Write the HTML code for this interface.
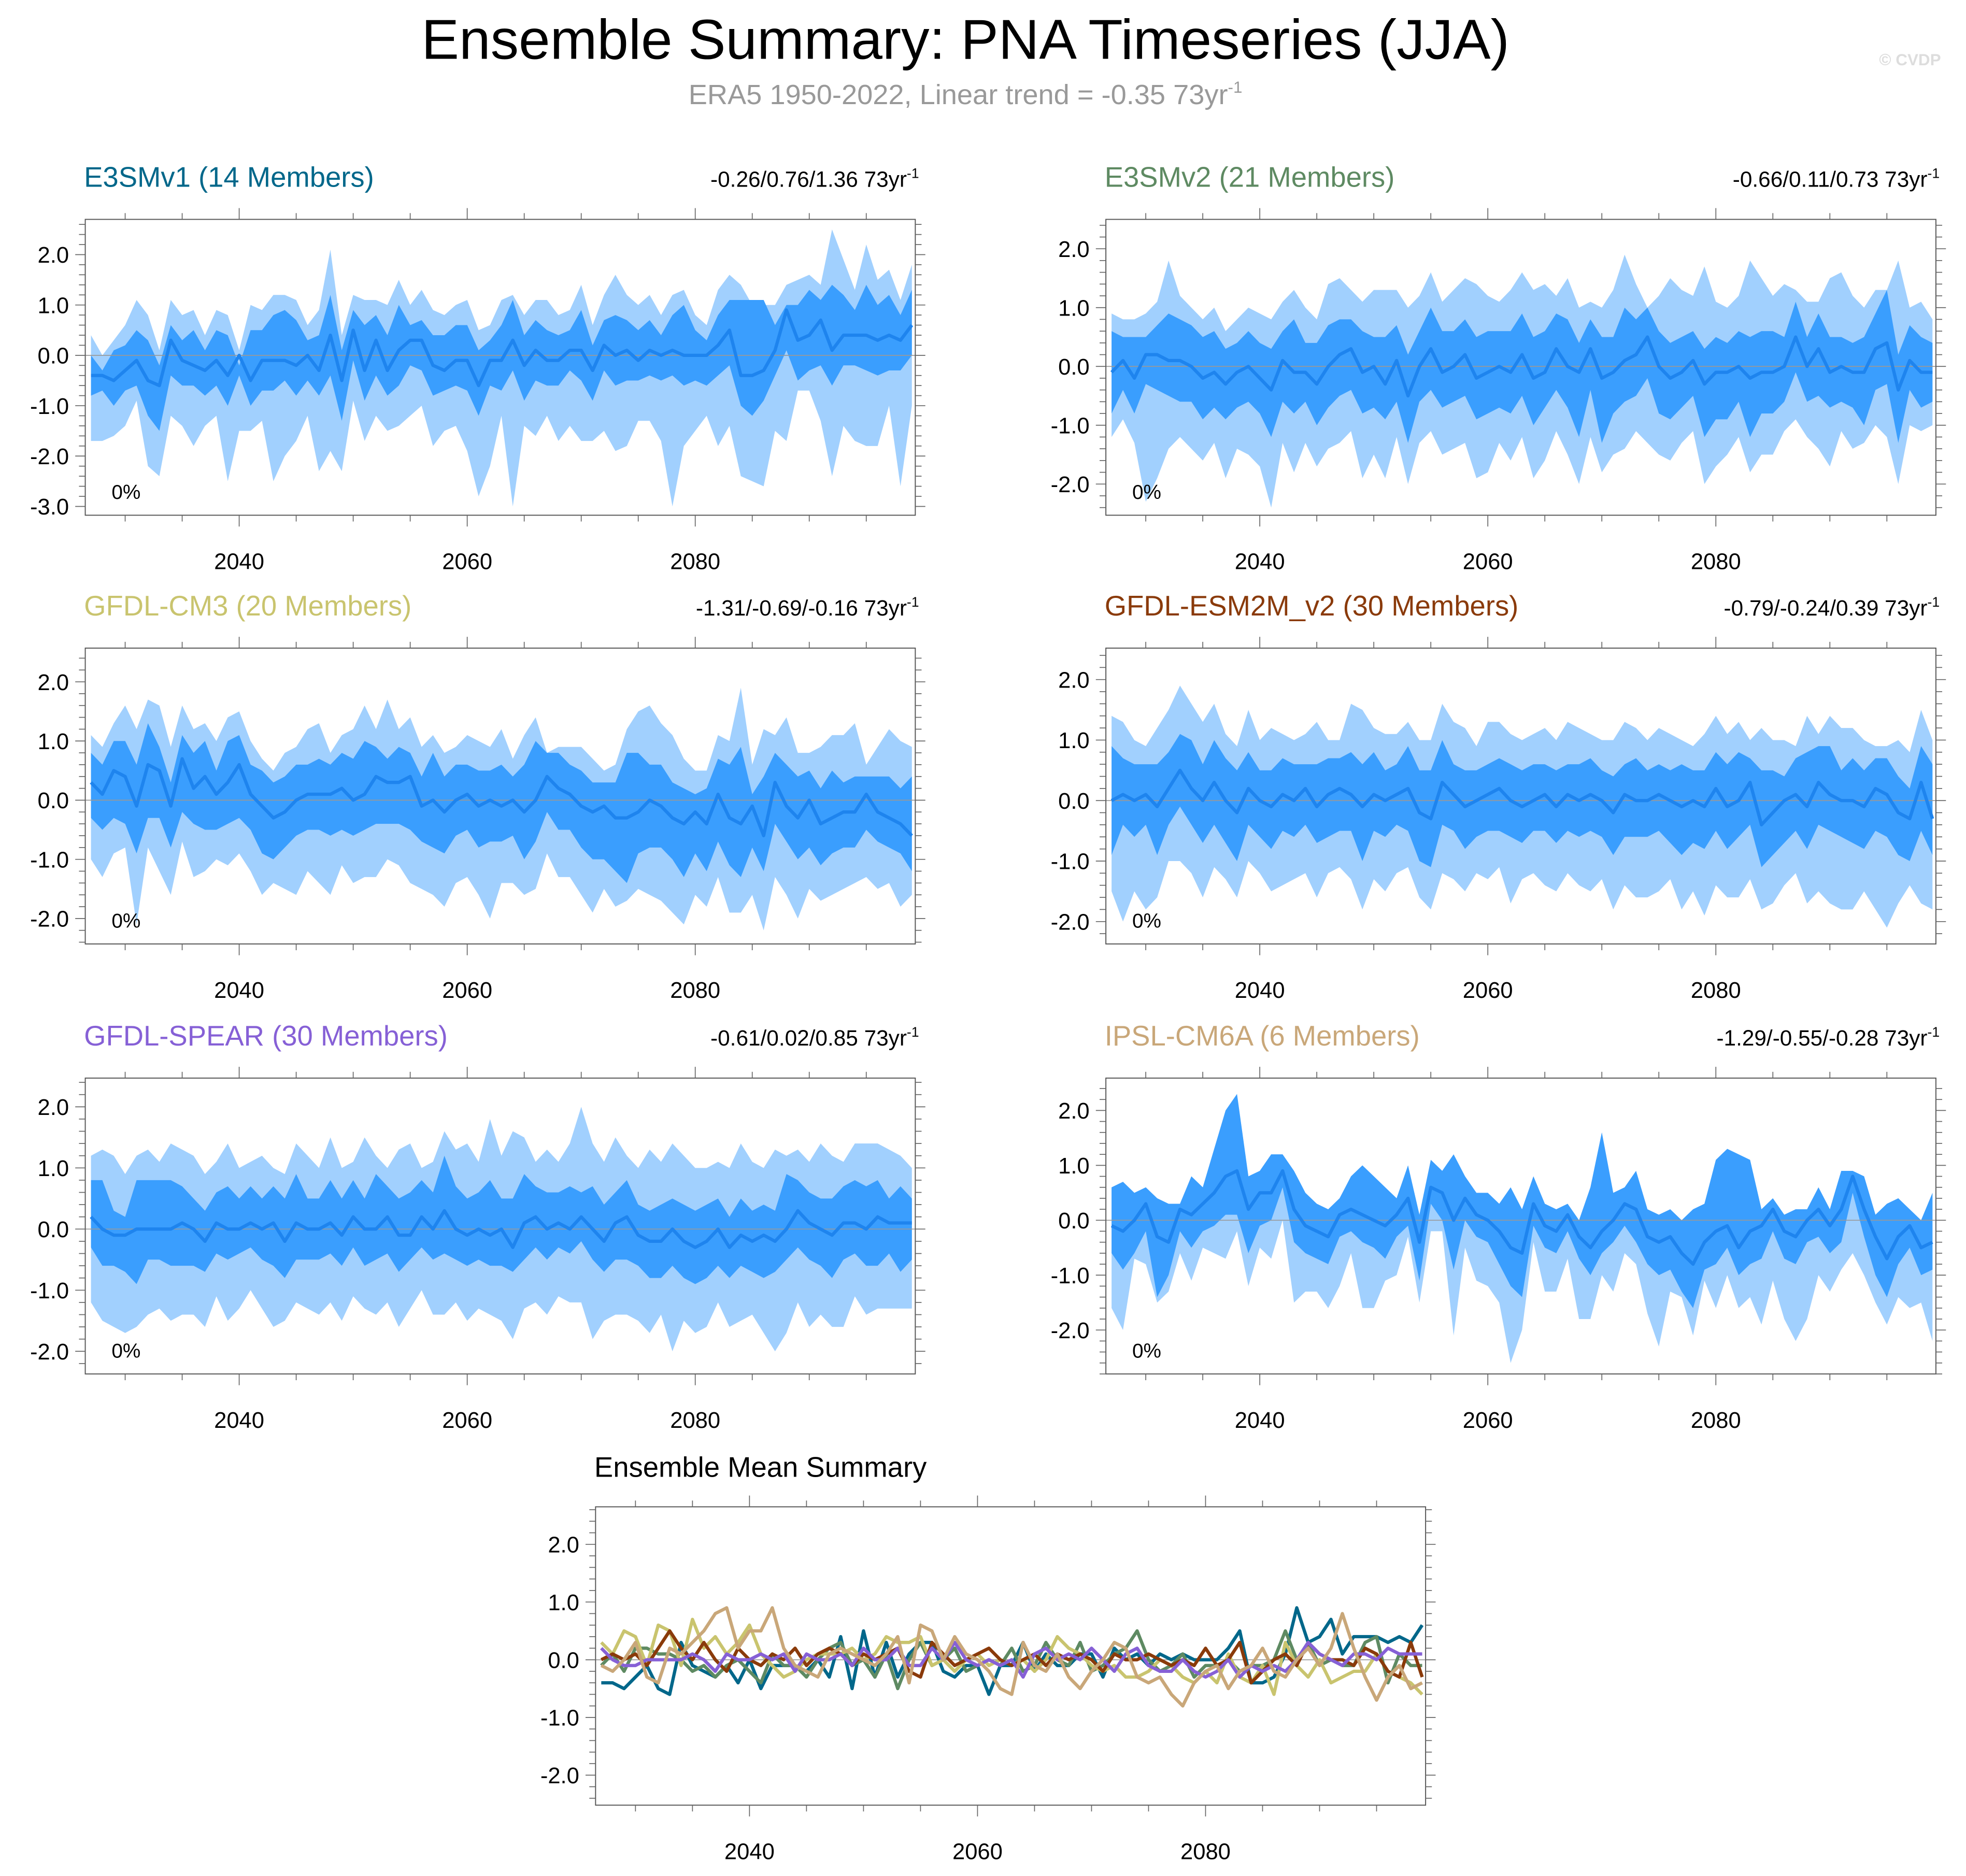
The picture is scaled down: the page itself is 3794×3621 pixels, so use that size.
<!DOCTYPE html>
<html><head><meta charset="utf-8">
<style>
html,body{margin:0;padding:0;background:#fff;}
svg{display:block;font-family:"Liberation Sans",sans-serif;}
</style></head>
<body>
<svg id="chart" width="3794" height="3621" viewBox="0 0 1568 1496.5" xmlns="http://www.w3.org/2000/svg">
<rect width="1568" height="1496.5" fill="#fff"/>
<text x="770" y="47" font-size="45" text-anchor="middle" fill="#000">Ensemble Summary: PNA Timeseries (JJA)</text>
<text x="770" y="83" font-size="22.4" text-anchor="middle" fill="#999">ERA5 1950-2022, Linear trend = -0.35 73yr<tspan dy="-9" font-size="13">-1</tspan></text>
<text x="1548" y="52" font-size="13" font-weight="bold" text-anchor="end" fill="#ddd">© CVDP</text>
</svg>
<script>
const years = []; for (let y = 2027; y <= 2099; y++) years.push(y);
const modelNames = ["E3SMv1 (14 Members)","E3SMv2 (21 Members)","GFDL-CM3 (20 Members)","GFDL-ESM2M_v2 (30 Members)","GFDL-SPEAR (30 Members)","IPSL-CM6A (6 Members)"];
const trendLabels = ["-0.26/0.76/1.36 73yr","-0.66/0.11/0.73 73yr","-1.31/-0.69/-0.16 73yr","-0.79/-0.24/0.39 73yr","-0.61/0.02/0.85 73yr","-1.29/-0.55/-0.28 73yr"];
const yTickVals = [-3,-2,-1,0,1,2];
const xTickVals = [2040,2060,2080];

const m1Mean=[-0.4,-0.4,-0.5,-0.3,-0.1,-0.5,-0.6,0.3,-0.1,-0.2,-0.3,-0.1,-0.4,0.0,-0.5,-0.1,-0.1,-0.1,-0.2,0.0,-0.3,0.4,-0.5,0.5,-0.3,0.3,-0.3,0.1,0.3,0.3,-0.2,-0.3,-0.1,-0.1,-0.6,-0.1,-0.1,0.3,-0.2,0.1,-0.1,-0.1,0.1,0.1,-0.3,0.2,0.0,0.1,-0.1,0.1,0.0,0.1,0.0,0.0,0.0,0.2,0.5,-0.4,-0.4,-0.3,0.1,0.9,0.3,0.4,0.7,0.1,0.4,0.4,0.4,0.3,0.4,0.3,0.6];
const m1OutHi=[0.4,0.0,0.3,0.6,1.1,0.8,0.1,1.1,0.8,0.9,0.4,0.9,0.8,0.1,1.0,0.9,1.2,1.2,1.1,0.6,0.9,2.1,0.4,1.2,1.1,1.1,1.0,1.5,1.0,1.3,0.9,0.8,1.0,1.1,0.5,0.6,1.1,1.2,0.8,1.1,1.1,0.8,0.9,1.4,0.6,1.2,1.6,1.2,1.0,1.2,0.8,1.2,1.3,0.8,0.6,1.3,1.6,1.4,1.0,1.0,1.0,1.4,1.5,1.6,1.4,2.5,1.9,1.3,2.2,1.5,1.7,1.1,1.8];
const m1InHi=[0.0,-0.3,0.1,0.2,0.5,0.3,-0.2,0.6,0.3,0.5,0.1,0.5,0.4,-0.2,0.5,0.5,0.8,0.9,0.7,0.3,0.4,1.2,0.1,0.9,0.6,0.8,0.4,1.0,0.6,0.7,0.4,0.4,0.6,0.6,0.1,0.3,0.6,1.1,0.4,0.7,0.5,0.4,0.5,0.9,0.2,0.7,0.8,0.7,0.5,0.7,0.4,0.8,1.0,0.5,0.3,0.8,1.1,1.1,1.1,1.1,0.6,1.0,1.0,1.3,1.1,1.4,1.2,0.9,1.4,1.0,1.2,0.8,1.3];
const m1InLo=[-0.8,-0.7,-1.0,-0.7,-0.6,-1.2,-1.5,-0.4,-0.6,-0.6,-0.8,-0.6,-1.0,-0.4,-1.0,-0.7,-0.7,-0.5,-0.8,-0.5,-0.8,-0.4,-1.3,-0.1,-0.9,-0.4,-0.8,-0.6,-0.2,-0.3,-0.8,-0.7,-0.6,-0.7,-1.2,-0.6,-0.7,-0.3,-0.9,-0.5,-0.6,-0.6,-0.3,-0.5,-0.9,-0.3,-0.6,-0.5,-0.5,-0.4,-0.5,-0.4,-0.6,-0.5,-0.6,-0.4,-0.2,-1.0,-1.2,-0.9,-0.4,0.1,-0.5,-0.3,-0.2,-0.6,-0.2,-0.2,-0.3,-0.4,-0.3,-0.3,0.0];
const m1OutLo=[-1.7,-1.7,-1.6,-1.4,-0.9,-2.2,-2.4,-1.2,-1.4,-1.8,-1.4,-1.2,-2.5,-1.5,-1.5,-1.3,-2.5,-2.0,-1.7,-1.2,-2.3,-1.9,-2.3,-0.9,-1.7,-1.2,-1.5,-1.4,-1.2,-1.0,-1.8,-1.5,-1.4,-1.9,-2.8,-2.2,-1.2,-3.0,-1.4,-1.6,-1.2,-1.7,-1.4,-1.7,-1.7,-1.5,-1.9,-1.8,-1.3,-1.3,-1.7,-3.0,-1.8,-1.5,-1.2,-1.8,-1.4,-2.4,-2.5,-2.6,-1.5,-1.7,-0.7,-0.7,-1.3,-2.4,-1.4,-1.7,-1.8,-1.8,-1.0,-2.6,-1.0];

const m2Mean=[-0.1,0.1,-0.2,0.2,0.2,0.1,0.1,0.0,-0.2,-0.1,-0.3,-0.1,0.0,-0.2,-0.4,0.1,-0.1,-0.1,-0.3,0.0,0.2,0.3,-0.1,0.0,-0.3,0.1,-0.5,0.0,0.3,-0.1,0.0,0.2,-0.2,-0.1,0.0,-0.1,0.2,-0.2,-0.1,0.3,0.0,-0.1,0.3,-0.2,-0.1,0.1,0.2,0.5,0.0,-0.2,-0.1,0.1,-0.3,-0.1,-0.1,0.0,-0.2,-0.1,-0.1,0.0,0.5,0.0,0.3,-0.1,0.0,-0.1,-0.1,0.3,0.4,-0.4,0.1,-0.1,-0.1];
const m2OutHi=[0.9,0.8,0.8,0.9,1.1,1.8,1.2,1.0,0.8,1.0,0.6,0.8,1.0,0.9,0.8,1.1,1.3,1.0,0.8,1.4,1.5,1.3,1.1,1.3,1.3,1.3,1.0,1.2,1.6,1.1,1.3,1.5,1.4,1.2,1.1,1.3,1.6,1.3,1.4,1.2,1.5,1.0,1.1,1.0,1.3,1.9,1.4,1.0,1.2,1.5,1.3,1.2,1.7,1.1,1.0,1.2,1.8,1.5,1.2,1.4,1.3,1.1,1.1,1.5,1.6,1.2,1.0,1.3,1.3,1.8,1.0,1.1,0.8];
const m2InHi=[0.6,0.5,0.5,0.5,0.7,0.9,0.8,0.7,0.5,0.6,0.3,0.4,0.6,0.4,0.3,0.6,0.8,0.4,0.4,0.7,0.8,0.8,0.6,0.5,0.5,0.7,0.2,0.6,1.0,0.6,0.6,0.8,0.5,0.6,0.6,0.6,0.9,0.5,0.6,0.9,0.8,0.4,0.8,0.5,0.5,1.0,0.8,1.0,0.6,0.4,0.5,0.6,0.3,0.5,0.4,0.6,0.5,0.6,0.6,0.5,1.1,0.5,0.9,0.5,0.5,0.4,0.5,0.9,1.3,0.2,0.7,0.5,0.4];
const m2InLo=[-0.8,-0.4,-0.8,-0.3,-0.4,-0.5,-0.6,-0.6,-0.9,-0.7,-0.9,-0.7,-0.6,-0.8,-1.2,-0.6,-0.8,-0.6,-1.0,-0.7,-0.5,-0.4,-0.8,-0.7,-0.9,-0.6,-1.3,-0.6,-0.4,-0.7,-0.6,-0.5,-0.9,-0.8,-0.7,-0.8,-0.5,-1.0,-0.7,-0.4,-0.7,-1.2,-0.4,-1.3,-0.8,-0.6,-0.5,-0.2,-0.8,-0.9,-0.7,-0.5,-1.2,-0.9,-0.9,-0.6,-1.2,-0.8,-0.8,-0.6,-0.1,-0.6,-0.5,-0.7,-0.6,-0.7,-1.0,-0.4,-0.3,-1.3,-0.4,-0.7,-0.6];
const m2OutLo=[-1.2,-0.9,-1.3,-2.3,-1.9,-1.4,-1.2,-1.4,-1.6,-1.3,-1.9,-1.4,-1.5,-1.7,-2.4,-1.3,-1.8,-1.3,-1.7,-1.4,-1.3,-1.1,-1.9,-1.5,-1.9,-1.2,-2.0,-1.3,-1.1,-1.5,-1.4,-1.3,-1.9,-1.8,-1.3,-1.6,-1.2,-1.9,-1.6,-1.1,-1.5,-2.0,-1.2,-1.8,-1.5,-1.4,-1.1,-1.3,-1.5,-1.6,-1.3,-1.1,-2.0,-1.7,-1.5,-1.2,-1.8,-1.5,-1.5,-1.1,-0.9,-1.2,-1.4,-1.7,-1.1,-1.4,-1.3,-1.0,-1.2,-2.0,-1.0,-1.1,-1.0];

const m3Mean=[0.3,0.1,0.5,0.4,-0.1,0.6,0.5,-0.1,0.7,0.2,0.4,0.1,0.3,0.6,0.1,-0.1,-0.3,-0.2,0.0,0.1,0.1,0.1,0.2,0.0,0.1,0.4,0.3,0.3,0.4,-0.1,0.0,-0.2,0.0,0.1,-0.1,0.0,-0.1,0.0,-0.2,0.0,0.4,0.2,0.1,-0.1,-0.2,-0.1,-0.3,-0.3,-0.2,0.0,-0.1,-0.3,-0.4,-0.2,-0.4,0.1,-0.3,-0.4,-0.1,-0.6,0.3,-0.1,-0.3,0.0,-0.4,-0.3,-0.2,-0.2,0.1,-0.2,-0.3,-0.4,-0.6];
const m3OutHi=[1.1,0.9,1.3,1.6,1.2,1.7,1.6,0.9,1.6,1.2,1.3,1.0,1.4,1.5,1.0,0.7,0.5,0.8,0.9,1.2,1.3,0.8,1.1,1.2,1.6,1.2,1.7,1.2,1.4,0.9,1.1,0.8,0.9,1.1,1.0,0.9,1.2,0.7,1.1,1.4,0.8,0.9,0.9,0.9,0.7,0.5,0.6,1.2,1.5,1.6,1.3,1.1,0.7,0.5,0.5,1.1,1.0,1.9,0.6,1.2,1.1,1.4,0.8,0.8,0.9,1.1,1.1,1.3,0.6,0.9,1.2,1.0,0.9];
const m3InHi=[0.8,0.6,1.0,1.0,0.6,1.3,0.9,0.3,1.1,0.8,1.0,0.5,1.0,1.1,0.6,0.5,0.3,0.4,0.6,0.6,0.7,0.6,0.8,0.7,1.0,0.9,0.7,0.9,0.8,0.4,0.8,0.4,0.6,0.6,0.5,0.5,0.6,0.4,0.6,1.0,0.8,0.8,0.6,0.5,0.3,0.3,0.3,0.8,0.8,0.6,0.6,0.3,0.2,0.1,0.2,0.7,0.6,0.9,0.1,0.4,0.8,0.6,0.4,0.5,0.2,0.5,0.3,0.4,0.4,0.4,0.4,0.2,0.4];
const m3InLo=[-0.3,-0.5,-0.3,-0.4,-0.9,-0.3,-0.3,-0.8,-0.2,-0.4,-0.5,-0.5,-0.4,-0.3,-0.5,-0.9,-1.0,-0.8,-0.6,-0.5,-0.5,-0.6,-0.5,-0.6,-0.5,-0.4,-0.4,-0.4,-0.5,-0.7,-0.8,-0.9,-0.6,-0.5,-0.8,-0.7,-0.7,-0.6,-1.0,-0.7,-0.2,-0.5,-0.5,-0.8,-1.0,-1.0,-1.2,-1.4,-0.9,-0.8,-0.8,-1.0,-1.3,-0.9,-1.2,-0.7,-1.1,-1.3,-0.8,-1.2,-0.4,-0.7,-1.0,-0.8,-1.1,-0.9,-0.8,-0.8,-0.5,-0.7,-0.8,-0.9,-1.2];
const m3OutLo=[-1.0,-1.3,-0.9,-0.8,-2.1,-0.8,-1.2,-1.6,-0.7,-1.3,-1.2,-1.0,-1.1,-0.9,-1.2,-1.6,-1.4,-1.5,-1.6,-1.2,-1.4,-1.6,-1.1,-1.4,-1.3,-1.3,-1.0,-1.1,-1.4,-1.5,-1.6,-1.8,-1.4,-1.3,-1.6,-2.0,-1.4,-1.4,-1.6,-1.5,-0.9,-1.3,-1.3,-1.6,-1.9,-1.5,-1.8,-1.7,-1.5,-1.6,-1.7,-1.9,-2.1,-1.6,-1.8,-1.3,-1.9,-1.9,-1.6,-2.2,-1.3,-1.6,-2.0,-1.5,-1.7,-1.6,-1.5,-1.4,-1.3,-1.5,-1.4,-1.8,-1.6];

const m4Mean=[0.0,0.1,0.0,0.1,-0.1,0.2,0.5,0.2,0.0,0.3,0.0,-0.2,0.2,0.0,-0.1,0.1,0.0,0.2,-0.1,0.1,0.2,0.1,-0.1,0.1,0.0,0.1,0.2,-0.2,-0.3,0.3,0.1,-0.1,0.0,0.1,0.2,0.0,-0.1,0.0,0.1,-0.1,0.1,0.0,0.1,0.0,-0.2,0.1,0.0,0.0,0.1,0.0,-0.1,0.0,-0.1,0.2,-0.1,0.0,0.3,-0.4,-0.2,0.0,0.1,-0.1,0.3,0.1,0.0,0.0,-0.1,0.2,0.1,-0.2,-0.3,0.3,-0.3];
const m4OutHi=[1.4,1.3,1.0,0.9,1.2,1.5,1.9,1.6,1.3,1.6,1.1,0.9,1.5,1.0,1.2,1.1,1.0,1.1,1.3,1.0,1.0,1.6,1.5,1.2,1.1,1.1,1.3,1.0,1.0,1.6,1.3,1.2,0.9,1.3,1.3,1.1,1.0,1.1,1.2,1.0,1.3,1.2,1.1,1.0,1.0,1.3,1.2,1.0,1.2,1.1,1.0,0.9,1.1,1.4,1.1,1.3,1.0,1.2,1.0,1.0,0.9,1.4,1.1,1.4,1.2,1.2,1.0,0.9,0.9,1.0,0.8,1.5,1.0];
const m4InHi=[0.9,0.7,0.6,0.6,0.6,0.8,1.1,1.0,0.6,1.0,0.7,0.5,0.8,0.5,0.5,0.7,0.6,0.6,0.6,0.7,0.7,0.8,0.6,0.8,0.5,0.6,0.9,0.5,0.5,1.0,0.6,0.5,0.5,0.6,0.7,0.6,0.5,0.6,0.6,0.5,0.6,0.6,0.7,0.5,0.4,0.6,0.7,0.5,0.6,0.5,0.6,0.5,0.5,0.8,0.6,0.8,0.7,0.5,0.5,0.4,0.7,0.8,0.9,0.9,0.5,0.7,0.5,0.7,0.7,0.4,0.2,0.9,0.6];
const m4InLo=[-0.9,-0.4,-0.6,-0.4,-0.9,-0.4,-0.1,-0.4,-0.7,-0.4,-0.7,-1.0,-0.4,-0.6,-0.8,-0.5,-0.6,-0.4,-0.7,-0.6,-0.5,-0.5,-1.0,-0.5,-0.6,-0.4,-0.5,-1.0,-1.1,-0.4,-0.5,-0.8,-0.6,-0.5,-0.5,-0.6,-0.7,-0.5,-0.5,-0.7,-0.5,-0.6,-0.5,-0.6,-0.9,-0.6,-0.6,-0.6,-0.5,-0.7,-0.9,-0.7,-0.8,-0.5,-0.8,-0.6,-0.4,-1.1,-0.9,-0.7,-0.5,-0.8,-0.4,-0.5,-0.6,-0.7,-0.8,-0.5,-0.6,-0.9,-1.0,-0.5,-0.9];
const m4OutLo=[-1.5,-2.0,-1.5,-1.8,-1.6,-1.0,-1.0,-1.2,-1.6,-1.1,-1.3,-1.6,-1.0,-1.2,-1.5,-1.4,-1.3,-1.2,-1.6,-1.2,-1.1,-1.3,-1.8,-1.3,-1.5,-1.2,-1.1,-1.6,-1.8,-1.2,-1.3,-1.5,-1.2,-1.3,-1.1,-1.7,-1.3,-1.2,-1.4,-1.5,-1.2,-1.4,-1.5,-1.3,-1.8,-1.4,-1.6,-1.6,-1.5,-1.3,-1.8,-1.5,-1.9,-1.4,-1.6,-1.6,-1.3,-1.8,-1.7,-1.4,-1.2,-1.7,-1.5,-1.7,-1.8,-1.8,-1.5,-1.8,-2.1,-1.7,-1.4,-1.7,-1.8];

const m5Mean=[0.2,0.0,-0.1,-0.1,0.0,0.0,0.0,0.0,0.1,0.0,-0.2,0.1,0.0,0.0,0.1,0.0,0.1,-0.2,0.1,0.0,0.0,0.1,-0.1,0.2,0.0,0.0,0.2,-0.1,-0.1,0.2,0.0,0.3,0.0,-0.1,0.0,-0.1,0.0,-0.3,0.1,0.2,0.0,0.1,0.0,0.2,0.0,-0.2,0.1,0.2,-0.1,-0.2,-0.2,0.0,-0.2,-0.3,-0.2,0.0,-0.3,-0.1,-0.2,-0.1,-0.2,0.0,0.3,0.1,0.0,-0.1,0.1,0.1,0.0,0.2,0.1,0.1,0.1];
const m5OutHi=[1.2,1.3,1.2,0.9,1.2,1.3,1.1,1.4,1.3,1.2,0.9,1.1,1.4,1.0,1.1,1.2,1.0,0.9,1.4,1.2,1.0,1.5,1.0,1.1,1.5,1.2,1.0,1.3,1.4,1.0,1.1,1.6,1.3,1.4,1.1,1.8,1.2,1.6,1.5,1.1,1.3,1.1,1.4,2.0,1.4,1.1,1.5,1.2,1.0,1.3,1.1,1.4,1.2,1.0,1.0,1.1,1.0,1.4,1.1,1.0,1.3,1.2,1.3,1.1,1.4,1.2,1.1,1.4,1.4,1.4,1.3,1.2,1.0];
const m5InHi=[0.8,0.8,0.3,0.2,0.8,0.8,0.8,0.8,0.7,0.5,0.3,0.6,0.7,0.5,0.7,0.5,0.7,0.5,0.9,0.5,0.5,0.8,0.5,0.8,0.5,0.9,0.7,0.5,0.6,0.8,0.6,1.2,0.7,0.5,0.6,0.8,0.5,0.5,0.9,0.7,0.6,0.6,0.7,0.6,0.7,0.4,0.6,0.8,0.4,0.3,0.4,0.5,0.4,0.3,0.4,0.5,0.2,0.5,0.3,0.4,0.3,0.9,0.8,0.6,0.5,0.5,0.7,0.8,0.7,0.8,0.5,0.7,0.5];
const m5InLo=[-0.3,-0.6,-0.6,-0.7,-0.9,-0.5,-0.5,-0.6,-0.6,-0.6,-0.7,-0.4,-0.5,-0.4,-0.3,-0.5,-0.6,-0.8,-0.5,-0.5,-0.5,-0.4,-0.6,-0.3,-0.6,-0.5,-0.4,-0.7,-0.5,-0.3,-0.5,-0.4,-0.5,-0.6,-0.5,-0.6,-0.6,-0.7,-0.5,-0.3,-0.5,-0.3,-0.4,-0.2,-0.5,-0.7,-0.5,-0.5,-0.6,-0.8,-0.8,-0.6,-0.8,-0.9,-0.8,-0.6,-0.8,-0.6,-0.7,-0.8,-0.7,-0.5,-0.3,-0.5,-0.6,-0.8,-0.5,-0.4,-0.6,-0.6,-0.4,-0.7,-0.5];
const m5OutLo=[-1.2,-1.5,-1.6,-1.7,-1.6,-1.4,-1.3,-1.5,-1.4,-1.4,-1.6,-1.1,-1.5,-1.3,-1.0,-1.3,-1.6,-1.5,-1.2,-1.3,-1.4,-1.2,-1.5,-1.1,-1.3,-1.4,-1.2,-1.6,-1.3,-1.0,-1.4,-1.4,-1.2,-1.5,-1.3,-1.4,-1.5,-1.8,-1.3,-1.2,-1.4,-1.1,-1.2,-1.2,-1.8,-1.5,-1.4,-1.4,-1.5,-1.7,-1.4,-2.0,-1.5,-1.7,-1.6,-1.2,-1.6,-1.5,-1.4,-1.7,-2.0,-1.7,-1.2,-1.6,-1.4,-1.6,-1.6,-1.1,-1.4,-1.3,-1.3,-1.3,-1.3];

const m6Mean=[-0.1,-0.2,0.0,0.3,-0.3,-0.4,0.2,0.1,0.3,0.5,0.8,0.9,0.2,0.5,0.5,0.9,0.2,-0.1,-0.2,-0.3,0.1,0.2,0.1,0.0,-0.1,0.1,0.4,-0.4,0.6,0.5,0.0,0.4,0.1,0.0,-0.2,-0.5,-0.6,0.3,-0.1,-0.2,0.1,-0.3,-0.5,-0.2,0.0,0.3,0.2,-0.3,-0.4,-0.3,-0.6,-0.8,-0.4,-0.2,-0.1,-0.5,-0.2,-0.1,0.2,-0.2,-0.3,0.0,0.2,-0.1,0.2,0.8,0.2,-0.3,-0.7,-0.3,-0.1,-0.5,-0.4];
const m6InHi=[0.6,0.7,0.5,0.6,0.4,0.3,0.3,0.8,0.6,1.3,2.0,2.3,0.8,0.9,1.2,1.2,0.9,0.5,0.3,0.2,0.4,0.8,1.0,0.8,0.6,0.4,1.0,0.1,1.1,0.9,1.2,0.8,0.5,0.5,0.3,0.6,0.2,0.8,0.3,0.2,0.3,0.0,0.6,1.6,0.5,0.6,0.9,0.2,0.1,0.2,0.0,0.2,0.3,1.1,1.3,1.2,1.1,0.2,0.4,0.1,0.2,0.2,0.6,0.2,0.9,0.9,0.8,0.1,0.3,0.4,0.2,0.0,0.5];
const m6OutHi=[0.6,0.7,0.5,0.6,0.4,0.3,0.3,0.8,0.6,1.3,2.0,2.3,0.8,0.9,1.2,1.2,0.9,0.5,0.3,0.2,0.4,0.8,1.0,0.8,0.6,0.4,1.0,0.1,1.1,0.9,1.2,0.8,0.5,0.5,0.3,0.6,0.2,0.8,0.3,0.2,0.3,0.0,0.6,1.6,0.5,0.6,0.9,0.2,0.1,0.2,0.0,0.2,0.3,1.1,1.3,1.2,1.1,0.2,0.4,0.1,0.2,0.2,0.6,0.2,0.9,0.9,0.8,0.1,0.3,0.4,0.2,0.0,0.5];
const m6InLo=[-0.6,-0.9,-0.6,-0.2,-1.4,-1.0,-0.2,-0.5,-0.2,-0.1,0.1,0.1,-0.6,-0.1,0.0,0.6,-0.4,-0.6,-0.7,-0.8,-0.3,-0.2,-0.4,-0.5,-0.7,-0.3,-0.1,-1.1,0.3,0.0,-0.9,0.0,-0.3,-0.4,-0.8,-1.2,-1.4,-0.1,-0.5,-0.6,-0.2,-0.7,-1.0,-0.6,-0.4,-0.1,-0.4,-0.8,-1.0,-0.9,-1.3,-1.6,-0.9,-0.8,-0.5,-1.0,-0.8,-0.7,-0.2,-0.7,-0.8,-0.4,-0.3,-0.6,-0.4,0.5,-0.3,-1.0,-1.4,-0.8,-0.5,-1.0,-0.9];
const m6OutLo=[-1.6,-2.0,-0.7,-0.8,-1.5,-1.3,-0.6,-1.1,-0.5,-0.6,-0.7,-0.2,-1.2,-0.5,-0.7,0.0,-1.5,-1.3,-1.3,-1.6,-1.2,-0.6,-1.6,-1.6,-1.1,-1.0,-0.3,-1.5,-0.2,-0.2,-2.1,-0.5,-1.1,-1.2,-1.5,-2.6,-2.0,-0.4,-1.3,-1.3,-0.7,-1.8,-1.8,-1.0,-1.3,-0.6,-0.8,-1.7,-2.3,-1.3,-1.4,-2.1,-1.1,-1.6,-1.0,-1.6,-1.4,-1.9,-1.1,-1.8,-2.2,-1.8,-1.0,-1.3,-0.9,-0.6,-1.0,-1.5,-1.9,-1.4,-1.6,-1.5,-2.2];

const NS = "http://www.w3.org/2000/svg";
const svg = document.getElementById('chart');
const modelColors = ["#00678a","#5e8a62","#c9c46e","#8a3a0a","#8660d6","#c9a779"];
const models = [
 {mean:m1Mean,oh:m1OutHi,ih:m1InHi,il:m1InLo,ol:m1OutLo},
 {mean:m2Mean,oh:m2OutHi,ih:m2InHi,il:m2InLo,ol:m2OutLo},
 {mean:m3Mean,oh:m3OutHi,ih:m3InHi,il:m3InLo,ol:m3OutLo},
 {mean:m4Mean,oh:m4OutHi,ih:m4InHi,il:m4InLo,ol:m4OutLo},
 {mean:m5Mean,oh:m5OutHi,ih:m5InHi,il:m5InLo,ol:m5OutLo},
 {mean:m6Mean,oh:m6OutHi,ih:m6InHi,il:m6InLo,ol:m6OutLo}
];
const boxes = [
 {x:68,y:175,ymin:-3.175,ymax:2.7},
 {x:882,y:175,ymin:-2.53,ymax:2.5},
 {x:68,y:517,ymin:-2.43,ymax:2.57},
 {x:882,y:517,ymin:-2.37,ymax:2.52},
 {x:68,y:860,ymin:-2.37,ymax:2.47},
 {x:882,y:860,ymin:-2.8,ymax:2.59}
];
const PW = 662, PH = 236, X0 = 2026.5, X1 = 2099.3;

function mk(tag, attrs, parent){
  const e = document.createElementNS(NS, tag);
  for (const k in attrs) e.setAttribute(k, attrs[k]);
  (parent||svg).appendChild(e);
  return e;
}
function fmt(v){ return v.toFixed(1); }

function drawAxes(g, b, sx, sy, name, H){
  const z = mk('line',{x1:b.x,x2:b.x+PW,y1:sy(0),y2:sy(0),stroke:'#999','stroke-width':0.7},g);
  
  
  const fr = mk('rect',{x:b.x,y:b.y,width:PW,height:H,fill:'none',stroke:'#555','stroke-width':0.8},g);
  
  
  const lo = Math.ceil(b.ymin*5-1e-6), hi = Math.floor(b.ymax*5+1e-6);
  for (let k=lo;k<=hi;k++){
    const y = sy(k/5), len = (k%5===0)?8:5;
    mk('line',{x1:b.x-len,x2:b.x,y1:y,y2:y,stroke:'#666','stroke-width':0.7},g);
    mk('line',{x1:b.x+PW,x2:b.x+PW+len,y1:y,y2:y,stroke:'#666','stroke-width':0.7},g);
  }
  for (const v of yTickVals){
    if (v < b.ymin || v > b.ymax) continue;
    const t = mk('text',{x:b.x-13,y:sy(v)+6.5,'font-size':18,'text-anchor':'end',fill:'#000'},g);
    t.textContent = fmt(v);
    
    
  }
  for (let yr=2030; yr<=2095; yr+=5){
    const x = sx(yr), len = (yr%20===0)?9:5;
    mk('line',{x1:x,x2:x,y1:b.y+H,y2:b.y+H+len,stroke:'#666','stroke-width':0.7},g);
    mk('line',{x1:x,x2:x,y1:b.y-len,y2:b.y,stroke:'#666','stroke-width':0.7},g);
  }
  for (const yr of xTickVals){
    const t = mk('text',{x:sx(yr),y:b.y+H+43,'font-size':18,'text-anchor':'middle',fill:'#000'},g);
    t.textContent = String(yr);
    
    
  }
}

function bandPath(sx, sy, hi, lo){
  let d = '';
  years.forEach((yr,i)=>{ d += (i?'L':'M') + sx(yr).toFixed(2)+','+sy(hi[i]).toFixed(2); });
  for (let i=years.length-1;i>=0;i--) d += 'L'+sx(years[i]).toFixed(2)+','+sy(lo[i]).toFixed(2);
  return d+'Z';
}
function linePath(sx, sy, vals){
  let d=''; years.forEach((yr,i)=>{ d += (i?'L':'M') + sx(yr).toFixed(2)+','+sy(vals[i]).toFixed(2); });
  return d;
}

models.forEach((m, idx)=>{
  const b = boxes[idx];
  const name = 'panel-'+(idx+1);
  const g = mk('g',{});
  
  
  const sx = yr => b.x + (yr - X0)/(X1 - X0)*PW;
  const sy = v => b.y + (b.ymax - v)/(b.ymax - b.ymin)*PH;
  const ob = mk('path',{d:bandPath(sx,sy,m.oh,m.ol),fill:'#a1d0fe'},g);
  
  
  const ib = mk('path',{d:bandPath(sx,sy,m.ih,m.il),fill:'#3a9efe'},g);
  
  
  drawAxes(g,b,sx,sy,name,PH);
  const ln = mk('path',{d:linePath(sx,sy,m.mean),fill:'none',stroke:'#1e84ee','stroke-width':2.6,'stroke-linejoin':'round'},g);
  
  
  const tt = mk('text',{x:b.x-1,y:b.y-26,'font-size':22.5,fill:modelColors[idx]},g);
  tt.textContent = modelNames[idx];
  
  
  const tr = mk('text',{x:b.x+PW+3,y:b.y-26,'font-size':17.5,'text-anchor':'end',fill:'#000'},g);
  tr.textContent = trendLabels[idx];
  const sup = mk('tspan',{dy:-7,'font-size':11},tr);
  sup.textContent = '-1';
  
  
  const pc = mk('text',{x:b.x+21,y:b.y+PH-13,'font-size':16,fill:'#000'},g);
  pc.textContent = '0%';
  
  
});

(function(){
  const b = {x:475,y:1202,ymin:-2.52,ymax:2.65};
  const H = 238;
  const name = 'summary-panel';
  const g = mk('g',{});
  
  
  const sx = yr => b.x + (yr - X0)/(X1 - X0)*PW;
  const sy = v => b.y + (b.ymax - v)/(b.ymax - b.ymin)*H;
  drawAxes(g,b,sx,sy,name,H);
  models.forEach((m,idx)=>{
    const l = mk('path',{d:linePath(sx,sy,m.mean),fill:'none',stroke:modelColors[idx],'stroke-width':2.6,'stroke-linejoin':'round'},g);
    
    
  });
  const t = mk('text',{x:b.x-1,y:b.y-24,'font-size':22.5,fill:'#000'},g);
  t.textContent = 'Ensemble Mean Summary';
  
  
})();
</script>
</body></html>
